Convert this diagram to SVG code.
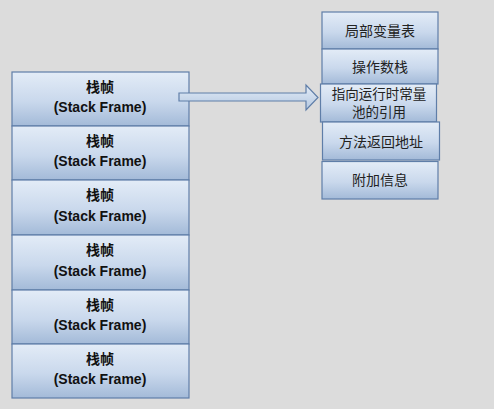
<svg xmlns="http://www.w3.org/2000/svg" width="494" height="409" viewBox="0 0 494 409">
<defs>
<linearGradient id="g" x1="0" y1="0" x2="0" y2="1">
<stop offset="0" stop-color="#e3ecf7"/>
<stop offset="0.55" stop-color="#c9d8ec"/>
<stop offset="1" stop-color="#a3bad8"/>
</linearGradient>
<linearGradient id="ga" x1="0" y1="0" x2="0" y2="1">
<stop offset="0" stop-color="#e3ecf7"/>
<stop offset="1" stop-color="#b3c7e0"/>
</linearGradient>
<style>
.box{fill:url(#g);stroke:#5f7ea8;stroke-width:1.2}
.t{font-family:"Liberation Sans","Noto Sans CJK SC",sans-serif;font-size:14px;fill:#111;text-anchor:middle}
.b{font-weight:bold}
.r{font-family:"Noto Sans CJK SC","Liberation Sans",sans-serif;font-size:14px;fill:#222;text-anchor:middle}
.s{font-size:13.5px}
</style>
</defs>
<rect width="494" height="409" fill="#dcdcdc"/>
<g id="frame1"><rect class="box" x="12" y="72" width="177" height="54"/><text class="t b" x="100" y="92">栈帧</text><text class="t b" x="100" y="112">(Stack  Frame)</text></g>
<g id="frame2"><rect class="box" x="12" y="126" width="177" height="54"/><text class="t b" x="100" y="146">栈帧</text><text class="t b" x="100" y="166">(Stack Frame)</text></g>
<g id="frame3"><rect class="box" x="12" y="180" width="177" height="55"/><text class="t b" x="100" y="200">栈帧</text><text class="t b" x="100" y="221">(Stack Frame)</text></g>
<g id="frame4"><rect class="box" x="12" y="235" width="177" height="55"/><text class="t b" x="100" y="255">栈帧</text><text class="t b" x="100" y="276">(Stack Frame)</text></g>
<g id="frame5"><rect class="box" x="12" y="290" width="177" height="54"/><text class="t b" x="100" y="310">栈帧</text><text class="t b" x="100" y="330">(Stack Frame)</text></g>
<g id="frame6"><rect class="box" x="12" y="344" width="177" height="54"/><text class="t b" x="100" y="364">栈帧</text><text class="t b" x="100" y="384">(Stack Frame)</text></g>
<g id="connectors">
<path d="M179,93 L306,93 L306,85 L318,97.5 L306,110 L306,101 L179,101 Z" fill="url(#ga)" stroke="#5f7ea8" stroke-width="1.2"/>
</g>
<g id="locals"><rect class="box" x="322" y="12" width="116" height="37"/><text class="r" x="380" y="36">局部变量表</text></g>
<g id="operand"><rect class="box" x="322" y="49" width="116" height="35"/><text class="r" x="380" y="72">操作数栈</text></g>
<g id="constref"><rect class="box" x="320.5" y="84" width="116" height="38"/><text class="r s" x="379" y="98.5">指向运行时常量</text><text class="r s" x="379" y="117">池的引用</text></g>
<g id="retaddr"><rect class="box" x="322.5" y="122" width="117" height="38"/><text class="r" x="381" y="147">方法返回地址</text></g>
<g id="extra"><rect class="box" x="322" y="161.5" width="116" height="37.5"/><text class="r" x="380" y="185">附加信息</text></g>
</svg>
